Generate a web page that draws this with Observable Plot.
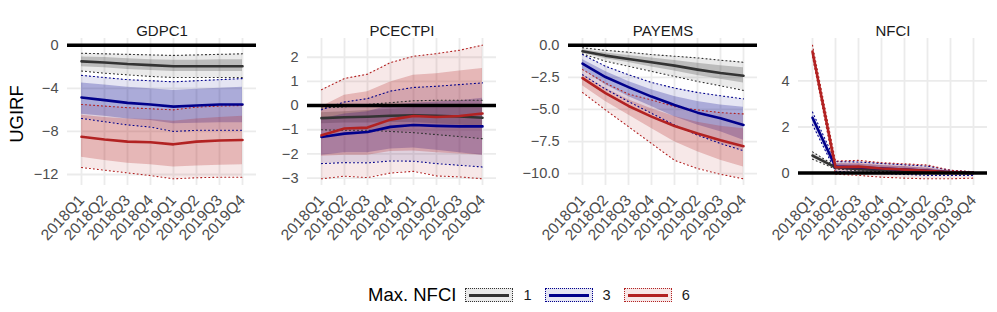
<!DOCTYPE html>
<html><head><meta charset="utf-8">
<script src="https://cdn.jsdelivr.net/npm/d3@7"></script>
<script src="https://cdn.jsdelivr.net/npm/@observablehq/plot@0.6"></script>
<style>
body{margin:0;background:#fff;font-family:"Liberation Sans",Arial,sans-serif;}
#wrap{position:relative;width:997px;height:312px;overflow:hidden;}
#row{position:absolute;left:0;top:0;display:flex;}
#legend{position:absolute;left:368px;top:284px;height:22px;display:flex;align-items:center;}
.ktitle{font-size:18.5px;color:#000;margin-right:9px;}
.key{position:relative;width:46px;height:12px;border:1px dotted;display:flex;align-items:center;justify-content:center;}
.kline{width:40px;height:3px;}
.klab{font-size:14.6px;color:#1a1a1a;margin-left:10px;margin-right:13px;}
</style></head><body><div id="wrap"><div id="row"></div><div id="legend"></div></div>
<script>
const quarters = ["2018Q1","2018Q2","2018Q3","2018Q4","2019Q1","2019Q2","2019Q3","2019Q4"];
const panels = ["GDPC1","PCECTPI","PAYEMS","NFCI"];
const seriesLabels = ["1","3","6"];
const seriesColors = ["#333333","#00008B","#B22222"];
const legendTitle = "Max. NFCI";
const yAxisTitle = "UGIRF";

// each array: rows are series 1, 3, 6
const gdpc1_med = [
  [-1.5,-1.6,-1.75,-1.85,-1.95,-1.95,-1.95,-1.95],
  [-4.85,-5.1,-5.35,-5.5,-5.7,-5.6,-5.5,-5.5],
  [-8.5,-8.75,-8.95,-9.0,-9.2,-8.95,-8.85,-8.8]];
const gdpc1_inHi = [
  [-1.1,-1.15,-1.25,-1.35,-1.4,-1.4,-1.35,-1.35],
  [-3.5,-3.7,-3.9,-4.05,-4.2,-4.1,-4.0,-3.9],
  [-6.5,-6.7,-6.85,-6.9,-7.05,-6.85,-6.7,-6.6]];
const gdpc1_inLo = [
  [-2.0,-2.1,-2.25,-2.35,-2.45,-2.45,-2.45,-2.45],
  [-6.4,-6.6,-6.85,-7.0,-7.3,-7.25,-7.2,-7.2],
  [-10.4,-10.7,-10.95,-11.1,-11.3,-11.2,-11.15,-11.1]];
const gdpc1_outHi = [
  [-0.75,-0.8,-0.85,-0.9,-0.95,-0.9,-0.85,-0.8],
  [-2.8,-3.0,-3.2,-3.3,-3.4,-3.3,-3.2,-3.1],
  [-5.5,-5.65,-5.8,-5.9,-6.0,-5.75,-5.65,-5.6]];
const gdpc1_outLo = [
  [-2.4,-2.6,-2.75,-2.9,-3.0,-3.0,-3.0,-3.0],
  [-6.8,-7.1,-7.4,-7.6,-8.0,-7.9,-7.9,-7.9],
  [-11.35,-11.6,-11.85,-12.1,-12.4,-12.3,-12.25,-12.25]];

const pcectpi_med = [
  [-0.52,-0.48,-0.46,-0.42,-0.4,-0.42,-0.45,-0.5],
  [-1.3,-1.16,-1.09,-0.88,-0.8,-0.84,-0.86,-0.86],
  [-1.23,-0.95,-0.91,-0.58,-0.43,-0.47,-0.43,-0.33]];
const pcectpi_inHi = [
  [-0.3,-0.25,-0.2,-0.15,-0.1,-0.1,-0.1,-0.12],
  [-0.55,-0.35,-0.25,0.0,0.1,0.15,0.2,0.3],
  [-0.05,0.43,0.57,0.98,1.26,1.32,1.43,1.53]];
const pcectpi_inLo = [
  [-0.75,-0.72,-0.72,-0.7,-0.7,-0.75,-0.8,-0.88],
  [-2.05,-1.95,-1.95,-1.8,-1.75,-1.85,-1.95,-2.05],
  [-2.1,-2.05,-2.05,-1.9,-1.88,-1.95,-2.0,-2.05]];
const pcectpi_outHi = [
  [-0.1,-0.05,0.05,0.12,0.2,0.22,0.22,0.22],
  [-0.17,0.15,0.29,0.6,0.75,0.8,0.87,0.94],
  [0.66,1.12,1.3,1.78,2.04,2.15,2.29,2.5]];
const pcectpi_outLo = [
  [-1.0,-1.02,-1.02,-1.07,-1.12,-1.2,-1.28,-1.37],
  [-2.4,-2.36,-2.37,-2.29,-2.3,-2.4,-2.47,-2.54],
  [-3.03,-2.92,-2.98,-2.79,-2.72,-2.91,-2.95,-3.03]];

const payems_med = [
  [-0.47,-0.81,-1.07,-1.33,-1.59,-1.9,-2.17,-2.38],
  [-1.44,-2.48,-3.26,-4.0,-4.65,-5.25,-5.69,-6.21],
  [-2.56,-3.73,-4.73,-5.56,-6.29,-6.87,-7.39,-7.86]];
const payems_inHi = [
  [-0.35,-0.6,-0.8,-1.0,-1.2,-1.4,-1.6,-1.75],
  [-1.12,-2.04,-2.82,-3.47,-4.0,-4.39,-4.65,-4.83],
  [-2.3,-3.35,-4.25,-4.95,-5.55,-6.0,-6.3,-6.5]];
const payems_inLo = [
  [-0.6,-1.05,-1.35,-1.7,-2.0,-2.35,-2.65,-2.95],
  [-1.9,-3.08,-4.0,-4.78,-5.56,-6.21,-6.74,-7.39],
  [-3.16,-4.39,-5.43,-6.48,-7.52,-8.3,-8.96,-9.48]];
const payems_outHi = [
  [-0.2,-0.4,-0.55,-0.73,-0.86,-0.99,-1.17,-1.33],
  [-0.73,-1.64,-2.3,-2.9,-3.34,-3.68,-3.94,-4.18],
  [-1.9,-2.95,-3.81,-4.26,-4.78,-5.04,-5.25,-5.35]];
const payems_outLo = [
  [-0.68,-1.25,-1.64,-2.04,-2.43,-2.82,-3.16,-3.52],
  [-2.3,-3.42,-4.39,-5.3,-6.21,-7.0,-7.65,-8.22],
  [-3.68,-5.04,-6.34,-7.65,-8.96,-9.6,-10.05,-10.4]];

const nfci_med = [
  [0.76,0.25,0.17,0.13,0.1,0.07,0.03,0.0],
  [2.4,0.28,0.25,0.2,0.15,0.1,0.03,0.0],
  [5.27,0.25,0.28,0.2,0.15,0.1,0.03,0.0]];
const nfci_inHi = [
  [0.84,0.28,0.2,0.16,0.12,0.09,0.04,0.01],
  [2.52,0.4,0.38,0.32,0.27,0.2,0.08,0.03],
  [5.4,0.4,0.42,0.34,0.28,0.22,0.08,0.03]];
const nfci_inLo = [
  [0.68,0.21,0.13,0.1,0.08,0.05,0.02,-0.01],
  [2.25,0.16,0.1,0.07,0.03,-0.01,-0.04,-0.05],
  [5.15,0.1,0.1,0.05,0.01,-0.03,-0.08,-0.1]];
const nfci_outHi = [
  [0.92,0.3,0.22,0.18,0.14,0.1,0.05,0.02],
  [2.65,0.5,0.48,0.42,0.36,0.3,0.12,0.05],
  [5.55,0.52,0.55,0.45,0.4,0.35,0.12,0.06]];
const nfci_outLo = [
  [0.6,0.18,0.1,0.07,0.05,0.03,0.0,-0.02],
  [2.1,0.08,0.02,-0.02,-0.06,-0.1,-0.1,-0.1],
  [5.05,-0.05,-0.1,-0.18,-0.22,-0.25,-0.25,-0.22]];

const yTicks = [[0,-4,-8,-12],[2,1,0,-1,-2,-3],[0,-2.5,-5,-7.5,-10],[0,2,4]];
const yFormats = [".0f",".0f",".1f",".0f"];

const panelData = [
  [gdpc1_med,gdpc1_inLo,gdpc1_inHi,gdpc1_outLo,gdpc1_outHi],
  [pcectpi_med,pcectpi_inLo,pcectpi_inHi,pcectpi_outLo,pcectpi_outHi],
  [payems_med,payems_inLo,payems_inHi,payems_outLo,payems_outHi],
  [nfci_med,nfci_inLo,nfci_inHi,nfci_outLo,nfci_outHi]];

// layout: svg widths and left margins so the panels sit where the reference has them
const svgWidths = [256,240,261,240];
const marginLefts = [67,51,72,41];
const marginRights = [0,0,0,10];

const row = document.getElementById("row");
panels.forEach((name, p) => {
  const [med, inLo, inHi, outLo, outHi] = panelData[p];
  const rows = [];
  seriesLabels.forEach((s, si) => quarters.forEach((q, i) => rows.push({
    q, s, med: med[si][i], inLo: inLo[si][i], inHi: inHi[si][i], outLo: outLo[si][i], outHi: outHi[si][i]
  })));
  const all = rows.flatMap(d => [d.med, d.inLo, d.inHi, d.outLo, d.outHi]).concat([0]);
  const lo = d3.min(all), hi = d3.max(all), pad = (hi - lo) * 0.05;
  const marks = [
    Plot.gridY(yTicks[p], {stroke: "#EBEBEB", strokeWidth: 1.8, strokeOpacity: 1}),
    Plot.gridX(quarters, {stroke: "#EBEBEB", strokeWidth: 1.8, strokeOpacity: 1}),
    Plot.areaY(rows, {x: "q", y1: "outLo", y2: "outHi", fill: "s", fillOpacity: 0.1}),
    Plot.areaY(rows, {x: "q", y1: "inLo", y2: "inHi", fill: "s", fillOpacity: 0.25}),
    Plot.lineY(rows, {x: "q", y: "outLo", stroke: "s", strokeWidth: 1.1, strokeDasharray: "1,3"}),
    Plot.lineY(rows, {x: "q", y: "outHi", stroke: "s", strokeWidth: 1.1, strokeDasharray: "1,3"}),
    Plot.lineY(rows, {x: "q", y: "med", stroke: "s", strokeWidth: 2.6}),
    Plot.ruleY([0], {stroke: "black", strokeWidth: 3.5}),
    Plot.axisY(yTicks[p], {tickSize: 0, tickPadding: 9, tickFormat: d3.format(yFormats[p]), label: null, color: "#4D4D4D", fontSize: 14.6}),
    Plot.axisX(quarters, {tickSize: 0, tickRotate: -47, tickPadding: 12, label: null, color: "#4D4D4D", fontSize: 15.5}),
    Plot.text([name], {frameAnchor: "top", dy: -13, fontSize: 15, fill: "#1A1A1A"})
  ];
  if (p === 0) marks.push(Plot.text([yAxisTitle], {frameAnchor: "left", textAnchor: "middle", dx: -50, dy: 2, rotate: -90, fontSize: 18.5, fill: "#000"}));
  const svg = Plot.plot({
    width: svgWidths[p], height: 260,
    marginLeft: marginLefts[p], marginRight: marginRights[p], marginTop: 38, marginBottom: 75,
    x: {type: "point", domain: quarters, padding: 0.6, axis: null},
    y: {domain: [lo - pad, hi + pad], axis: null},
    color: {domain: seriesLabels, range: seriesColors},
    style: {fontFamily: "Liberation Sans, Arial, sans-serif", fontSize: "14.6px", background: "transparent", overflow: "visible"},
    marks
  });
  row.appendChild(svg);
});

// legend
const legend = document.getElementById("legend");
const t = document.createElement("span"); t.className = "ktitle"; t.textContent = legendTitle; legend.appendChild(t);
seriesLabels.forEach((s, i) => {
  const c = d3.color(seriesColors[i]);
  const box = document.createElement("div"); box.className = "key";
  box.style.borderColor = seriesColors[i];
  box.style.background = `rgba(${c.r},${c.g},${c.b},0.1)`;
  const ln = document.createElement("div"); ln.className = "kline"; ln.style.background = seriesColors[i];
  box.appendChild(ln); legend.appendChild(box);
  const lab = document.createElement("span"); lab.className = "klab"; lab.textContent = s; legend.appendChild(lab);
});
</script></body></html>
